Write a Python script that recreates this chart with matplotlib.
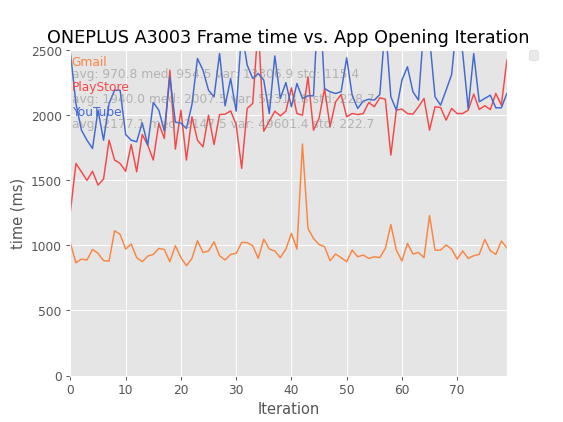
import numpy as np
import matplotlib.pyplot as plt

plt.style.use('ggplot')

# frame times (ms) per app opening iteration
gmail = [1016, 867, 895, 888, 969, 939, 883, 880, 1113, 1085,
         972, 1011, 906, 875, 918, 931, 977, 969, 875, 998,
         906, 844, 900, 1036, 946, 957, 1028, 921, 888, 931,
         939, 1023, 1021, 998, 900, 1049, 972, 957, 906, 972,
         1093, 972, 1780, 1131, 1054, 1008, 990, 883, 934, 906,
         875, 964, 913, 926, 900, 913, 906, 977, 1160, 964,
         880, 1016, 934, 946, 906, 1230, 964, 964, 1003, 972,
         895, 957, 900, 921, 931, 1046, 959, 931, 1034, 982]
playstore = [1259, 1630, 1566, 1500, 1570, 1464, 1510, 1809, 1656, 1630,
             1570, 1776, 1566, 1853, 1771, 1656, 1938, 1822, 2347, 1740,
             2040, 1656, 1989, 1809, 1758, 2001, 1776, 2006, 2009, 2034,
             1929, 1592, 2053, 2091, 2700, 1878, 1955, 2032, 1996, 2032,
             2211, 2014, 2001, 2296, 1886, 1976, 2206, 1912, 2104, 2160,
             1989, 2014, 2006, 2014, 2099, 2066, 2135, 2124, 1694, 2040,
             2048, 2014, 2009, 2066, 2130, 1886, 2066, 2060, 1963, 2053,
             2014, 2014, 2040, 2163, 2045, 2074, 2045, 2168, 2078, 2424]
youtube = [2480, 2091, 1886, 1809, 1745, 2040, 1809, 2091, 2193, 2193,
           1853, 1809, 1797, 1943, 1771, 2099, 2040, 1879, 2296, 1948,
           1940, 1899, 2083, 2437, 2347, 2193, 2142, 2475, 2073, 2283,
           2032, 2650, 2386, 2283, 2322, 2270, 2014, 2457, 2130, 2252,
           2066, 2245, 2130, 2150, 2150, 3000, 2206, 2181, 2168, 2181,
           2442, 2155, 2053, 2109, 2124, 2117, 2160, 2700, 2142, 2040,
           2270, 2373, 2181, 2117, 2700, 2600, 2142, 2078, 2193, 2314,
           2750, 2480, 2050, 2475, 2104, 2130, 2155, 2058, 2058, 2168]

apps = ['Gmail', 'PlayStore', 'YouTube']
series = [gmail, playstore, youtube]
colors = ['#fb8540', '#f44848', '#4169d0']
stats = ['avg: 970.8 med: 954.5 var: 13306.9 std: 115.4',
         'avg: 1940.0 med: 2007.5 var: 52313.8 std: 228.7',
         'avg: 2177.1 med: 2147.5 var: 49601.4 std: 222.7']

fig, ax = plt.subplots(figsize=(6.4, 4.8), dpi=88)

for name, vals, col in zip(apps, series, colors):
    ax.plot(np.arange(len(vals)), vals, color=col, linewidth=1.2)

# app names and their summary stats stacked in the top-left corner
y = 0.965
for name, txt, col in zip(apps, stats, colors):
    ax.text(0.003, y, name, color=col, transform=ax.transAxes, va='center', fontsize=10)
    ax.text(0.003, y - 0.039, txt, color='gray', alpha=0.5,
            transform=ax.transAxes, va='center', fontsize=10)
    y -= 0.077

ax.set_xlim(0, 79)
ax.set_ylim(0, 2500)
ax.set_xticks(range(0, 80, 10))
ax.set_title('ONEPLUS A3003 Frame time vs. App Opening Iteration', color='black')
ax.set_xlabel('Iteration')
ax.set_ylabel('time (ms)')
ax.legend(handles=[], bbox_to_anchor=(1.05, 1), loc=2, borderaxespad=0)

plt.savefig('out.png')
